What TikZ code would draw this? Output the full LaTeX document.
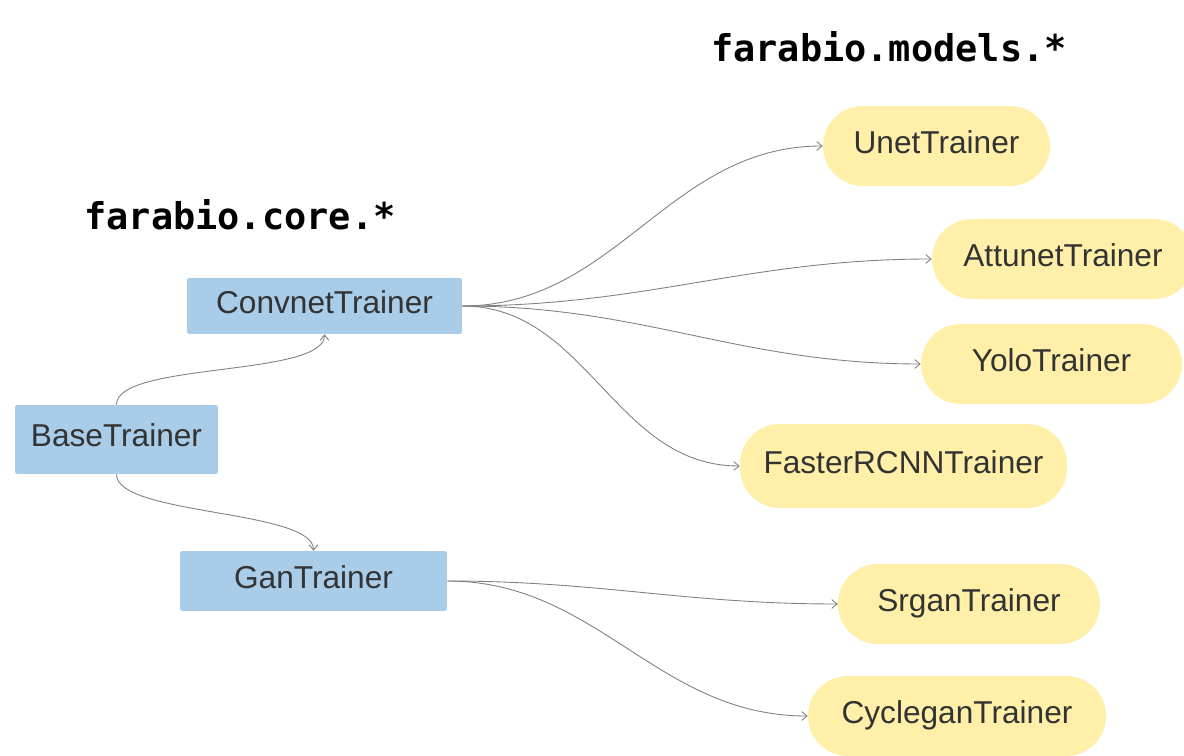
\documentclass[tikz,border=0pt]{standalone}
\usepackage{fontspec}
\setmainfont{Liberation Sans}
\newfontfamily\pkgfont{DejaVu Sans Mono}
\usetikzlibrary{arrows.meta}

\definecolor{trainerblue}{HTML}{A9CCE9}
\definecolor{modelyellow}{HTML}{FFEFA8}
\definecolor{labelgray}{HTML}{333333}
\definecolor{linkgray}{HTML}{808080}

\begin{document}
\begin{tikzpicture}[x=0.02cm, y=-0.02cm,
        core/.style={fill=trainerblue, rounded corners=1pt, inner sep=0pt,
            text height=13pt, text depth=4.5pt,
            text=labelgray, font=\fontsize{18}{21}\selectfont},
        model/.style={fill=modelyellow, inner sep=0pt, minimum height=1.6cm,
            text height=13pt, text depth=4.5pt,
            rounded corners=0.8cm, text=labelgray, font=\fontsize{18}{21}\selectfont},
        pkg/.style={font=\pkgfont\bfseries\fontsize{21}{24}\selectfont},
        link/.style={draw=linkgray, line width=0.5pt,
            -{Straight Barb[length=3pt, width=5pt]}}]

    % Page
    \fill [white] (0, 0) rectangle (1184, 756);
    \useasboundingbox (0, 0) rectangle (1184, 756);

    % Package headings
    \node (corepkg) at (240, 215) [pkg] {farabio.core.*};
    \node (modelspkg) at (889, 47) [pkg] {farabio.models.*};

    % Core trainers
    \node (base) at (116.5, 439.5) [core, minimum width=4.06cm, minimum height=1.38cm] {BaseTrainer};
    \node (convnet) at (324.5, 306) [core, minimum width=5.5cm, minimum height=1.12cm] {ConvnetTrainer};
    \node (gan) at (313.5, 581) [core, minimum width=5.34cm, minimum height=1.2cm] {GanTrainer};

    % Model trainers
    %% Convnet based
    \node (unet) at (936.5, 146) [model, minimum width=4.54cm] {UnetTrainer};
    \node (attunet) at (1063, 259) [model, minimum width=5.24cm] {AttunetTrainer};
    \node (yolo) at (1051.5, 364) [model, minimum width=5.22cm] {YoloTrainer};
    \node (fasterrcnn) at (903.5, 466) [model, minimum width=6.54cm, minimum height=1.68cm] {FasterRCNNTrainer};

    %% Gan based
    \node (srgan) at (969, 604) [model, minimum width=5.24cm] {SrganTrainer};
    \node (cyclegan) at (957, 716) [model, minimum width=5.96cm] {CycleganTrainer};

    % Inheritance
    \draw [link] (base.north) to [out=90, in=-90, looseness=0.5] (convnet.south);
    \draw [link] (base.south) to [out=-90, in=90, looseness=0.5] (gan.north);

    \draw [link] (convnet.east) to [out=0, in=180] (unet.west);
    \draw [link] (convnet.east) to [out=0, in=180] (attunet.west);
    \draw [link] (convnet.east) to [out=0, in=180] (yolo.west);
    \draw [link] (convnet.east) to [out=0, in=180] (fasterrcnn.west);

    \draw [link] (gan.east) to [out=0, in=180] (srgan.west);
    \draw [link] (gan.east) to [out=0, in=180] (cyclegan.west);
\end{tikzpicture}
\end{document}
